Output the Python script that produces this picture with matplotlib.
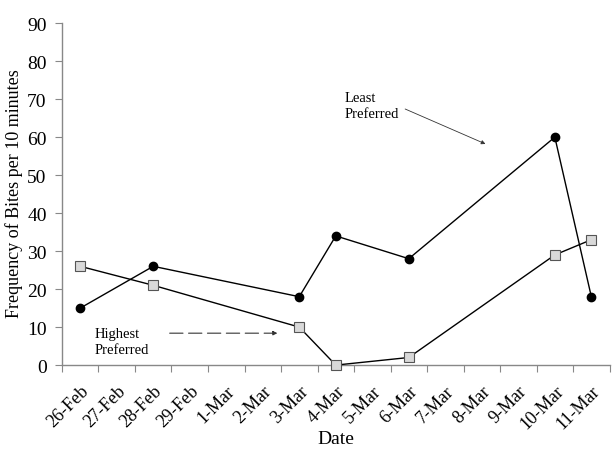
import matplotlib.pyplot as plt

# Bite frequency per 10 minutes, by observation date
dates = ["26-Feb", "27-Feb", "28-Feb", "29-Feb", "1-Mar", "2-Mar", "3-Mar", "4-Mar",
         "5-Mar", "6-Mar", "7-Mar", "8-Mar", "9-Mar", "10-Mar", "11-Mar"]
obs_dates = ["26-Feb", "28-Feb", "3-Mar", "4-Mar", "6-Mar", "10-Mar", "11-Mar"]
least_preferred = [15, 26, 18, 34, 28, 60, 18]
highest_preferred = [26, 21, 10, 0, 2, 29, 33]

plt.rcParams["font.family"] = ["Liberation Serif", "DejaVu Serif"]

fig = plt.figure(figsize=(6.16, 4.64), dpi=100)
ax = fig.add_axes([0.1006, 0.211, 0.889, 0.737])

x_obs = [dates.index(d) for d in obs_dates]

ax.plot(x_obs, least_preferred, color="black", lw=1, marker="o", ms=6,
        mfc="black", mec="black", clip_on=False, zorder=3)
ax.plot(x_obs, highest_preferred, color="black", lw=1, marker="s", ms=7,
        mfc="#d9d9d9", mec="#555555", mew=0.8, clip_on=False, zorder=3)

ax.set_xlim(-0.5, len(dates) - 0.5)
ax.set_ylim(0, 90)
ax.set_yticks(range(0, 91, 10))
ax.set_xticks([i - 0.5 for i in range(len(dates) + 1)])
ax.set_xticklabels([])
ax.set_xticks(range(len(dates)), minor=True)
ax.set_xticklabels(dates, minor=True, rotation=45, ha="right",
                   rotation_mode="anchor", fontsize=13)
ax.tick_params(axis="x", which="minor", length=0, pad=12)
ax.tick_params(axis="x", which="major", length=5, color="#888888")
ax.tick_params(axis="y", length=5, color="#888888", labelsize=14, pad=6)

for s in ["top", "right"]:
    ax.spines[s].set_visible(False)
for s in ["left", "bottom"]:
    ax.spines[s].set_color("#888888")
    ax.spines[s].set_linewidth(1)

ax.set_ylabel("Frequency of Bites per 10 minutes", fontsize=13)
ax.yaxis.set_label_coords(-0.072, 0.503)
ax.set_xlabel("Date", fontsize=14)
ax.xaxis.set_label_coords(0.5, -0.19)

ax.text(7.25, 68.3, "Least\nPreferred", fontsize=10.5, va="center", linespacing=1.25)
ax.annotate("", xy=(11.1, 58.2), xytext=(8.9, 67.4),
            arrowprops=dict(arrowstyle="-|>", color="#333333", lw=0.6,
                            mutation_scale=6, shrinkA=0, shrinkB=0))

ax.text(0.4, 6.2, "Highest\nPreferred", fontsize=10.5, va="center", linespacing=1.25)
ax.annotate("", xy=(5.4, 8.4), xytext=(2.45, 8.4),
            arrowprops=dict(arrowstyle="-|>", color="#333333", lw=0.8,
                            linestyle=(0, (12, 5)), mutation_scale=6,
                            shrinkA=0, shrinkB=0))

fig.savefig("out.png", dpi=100)
